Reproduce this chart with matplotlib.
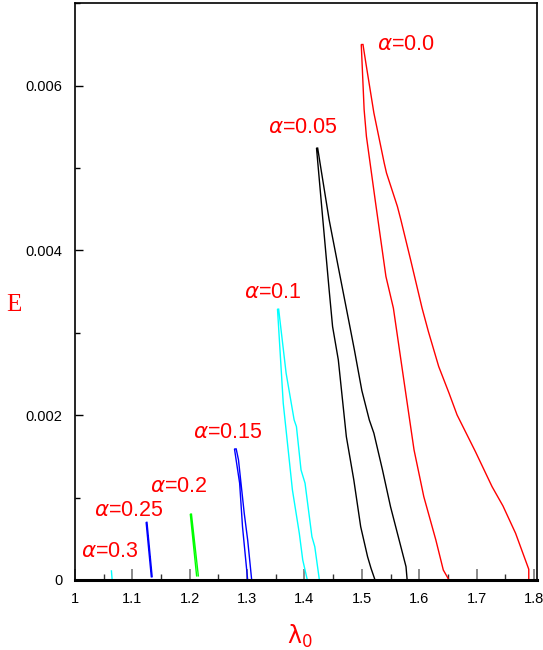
import matplotlib
matplotlib.use("Agg")
import matplotlib.pyplot as plt
from matplotlib.ticker import MultipleLocator

# ---- data ----
a00_x = [1.652, 1.642, 1.629, 1.608, 1.591, 1.574, 1.555, 1.542, 1.524, 1.508, 1.504, 1.499,
         1.502, 1.507, 1.521, 1.539, 1.543, 1.562, 1.568, 1.585, 1.605, 1.616, 1.634, 1.652,
         1.666, 1.698, 1.727, 1.746, 1.768, 1.791, 1.791]
a00_y = [0.0, 0.000121, 0.000486, 0.001012, 0.001579, 0.002389, 0.0033, 0.003684, 0.004575,
         0.005384, 0.005709, 0.0065, 0.0065, 0.006276, 0.005669, 0.005061, 0.00494, 0.004534,
         0.004373, 0.003887, 0.0033, 0.003016, 0.002591, 0.002268, 0.002004, 0.001558,
         0.001133, 0.000899, 0.000567, 0.00013, 0.0]

a005_x = [1.523, 1.516, 1.510, 1.498, 1.486, 1.473, 1.459, 1.449, 1.443, 1.431, 1.421,
          1.423, 1.429, 1.443, 1.461, 1.478, 1.487, 1.500, 1.513, 1.521, 1.536, 1.550, 1.571,
          1.577, 1.579]
a005_y = [0.0, 0.000142, 0.000283, 0.000647, 0.001215, 0.00174, 0.002672, 0.003077, 0.003522,
          0.004454, 0.005243, 0.005243, 0.00498, 0.004373, 0.003725, 0.003118, 0.002794,
          0.002300, 0.001943, 0.001782, 0.001336, 0.00089, 0.000324, 0.000162, 0.0]

a01_x = [1.405, 1.397, 1.391, 1.379, 1.363, 1.353, 1.355, 1.368, 1.382, 1.386, 1.394, 1.401,
         1.413, 1.418, 1.426]
a01_y = [0.0, 0.000243, 0.000567, 0.001093, 0.002146, 0.003288, 0.003288, 0.002511, 0.001943,
         0.001862, 0.001336, 0.001175, 0.000526, 0.000404, 0.0]

a015_x = [1.301, 1.292, 1.287, 1.278, 1.281, 1.285, 1.295, 1.301, 1.308]
a015_y = [0.0, 0.000647, 0.001175, 0.001591, 0.001591, 0.001458, 0.00081, 0.000486, 0.0]

a02_x = [1.212, 1.201, 1.203, 1.215]
a02_y = [0.00005, 0.0008, 0.0008, 0.00005]

a025_x = [1.133, 1.124, 1.1255, 1.1345]
a025_y = [0.00004, 0.0007, 0.0007, 0.00004]

a03_x = [1.0635, 1.0648]
a03_y = [0.00011, 0.0]

label_values = ["0.0", "0.05", "0.1", "0.15", "0.2", "0.25", "0.3"]
label_x = [1.527, 1.336, 1.295, 1.205, 1.131, 1.034, 1.010]
label_y = [0.0065, 0.00549, 0.00349, 0.00179, 0.00114, 0.00084, 0.00034]

x_ticks = [1.0, 1.1, 1.2, 1.3, 1.4, 1.5, 1.6, 1.7, 1.8]
x_ticklabels = ["1", "1.1", "1.2", "1.3", "1.4", "1.5", "1.6", "1.7", "1.8"]
y_ticks = [0.0, 0.002, 0.004, 0.006]
y_ticklabels = ["0", "0.002", "0.004", "0.006"]

# ---- figure ----
plt.rcParams["mathtext.fontset"] = "dejavusans"
fig = plt.figure(figsize=(5.43, 6.5), dpi=100)
ax = fig.add_axes([0.1381, 0.1077, 0.8505, 0.8872])

series = [
    (a00_x, a00_y, "#ff0000"),
    (a005_x, a005_y, "#000000"),
    (a01_x, a01_y, "#00ffff"),
    (a015_x, a015_y, "#0000ff"),
    (a02_x, a02_y, "#00ff00"),
    (a025_x, a025_y, "#0000ff"),
    (a03_x, a03_y, "#00ffff"),
]
for xs, ys, c in series:
    ax.plot(xs, ys, color=c, lw=1.0, solid_joinstyle="miter")

for v, x, y in zip(label_values, label_x, label_y):
    ax.text(x, y, r"$\alpha$=" + v, color="#ff0000", fontsize=15.5,
            family="Liberation Sans", ha="left", va="center")

ax.set_xlim(1.0, 1.805)
ax.set_ylim(0.0, 0.007)

ax.set_xticks(x_ticks)
ax.set_xticklabels(x_ticklabels, family="Liberation Sans", fontsize=10.5)
ax.set_yticks(y_ticks)
ax.set_yticklabels(y_ticklabels, family="Liberation Sans", fontsize=10.5)
ax.xaxis.set_minor_locator(MultipleLocator(0.05))
ax.yaxis.set_minor_locator(MultipleLocator(0.001))

ax.tick_params(axis="x", which="major", direction="in", length=8, width=1.2,
               color="#777777", pad=9, top=False)
ax.tick_params(axis="x", which="minor", direction="in", length=4, width=1.0,
               color="#333333", top=False)
ax.tick_params(axis="y", which="major", direction="in", length=6, width=1.0,
               color="#000000", pad=9, right=False)
ax.tick_params(axis="y", which="minor", direction="in", length=3.5, width=1.0,
               color="#000000", right=False)

for s in ["top", "right", "left"]:
    ax.spines[s].set_linewidth(1.2)
ax.spines["bottom"].set_linewidth(2.2)

fig.text(14 / 543, 1 - 305 / 650, "E", color="#ff0000", fontsize=18,
         family="Liberation Serif", ha="center", va="center")
fig.text(300 / 543, 1 - 636 / 650, r"$\mathregular{\lambda_0}$", color="#ff0000",
         fontsize=17, ha="center", va="center")

fig.savefig("out.png", dpi=100)
